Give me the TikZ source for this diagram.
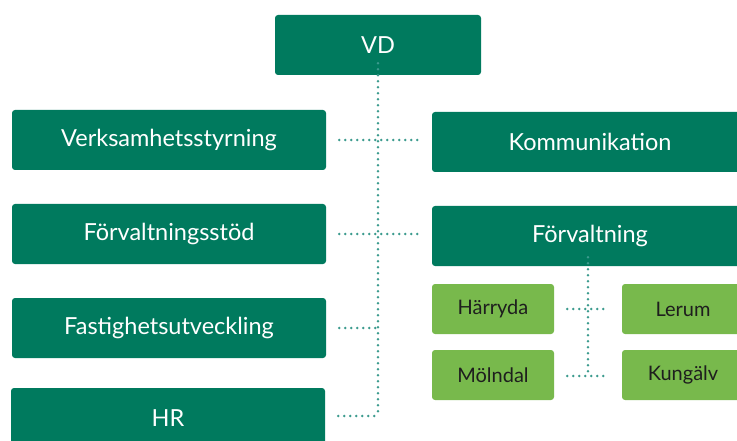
\documentclass[tikz,border=0pt]{standalone}
\usepackage{fontspec}
\setmainfont{Lato}
\definecolor{dkgreen}{RGB}{0,122,94}
\definecolor{ltgreen}{RGB}{120,185,76}
\definecolor{dotcol}{RGB}{60,155,142}
\definecolor{dktext}{RGB}{30,30,30}
\begin{document}
\begin{tikzpicture}[x=1pt,y=-1pt,
  mainbox/.style={fill=dkgreen,text=white,rounded corners=3pt,minimum height=60pt,inner sep=0pt,font=\fontsize{23.5}{26}\selectfont},
  subbox/.style={fill=ltgreen,text=dktext,rounded corners=3pt,minimum width=122pt,minimum height=50pt,inner sep=0pt,font=\fontsize{20}{23}\selectfont},
  dotline/.style={draw=dotcol,line width=2.7pt,line cap=round,dash pattern=on 0pt off 6pt}]
\useasboundingbox (0,0) rectangle (737,441);
\node[mainbox,minimum width=206pt] (vd) at (378,45) {VD};
\node[mainbox,minimum width=314pt] (verk) at (169,140) {Verksamhetsstyrning};
\node[mainbox,minimum width=316pt] (komm) at (590,142) {Kommunikation};
\node[mainbox,minimum width=314pt] (fstod) at (169,234) {Förvaltningsstöd};
\node[mainbox,minimum width=316pt] (forv) at (590,236) {Förvaltning};
\node[mainbox,minimum width=314pt] (fast) at (169,328) {Fastighetsutveckling};
\node[mainbox,minimum width=314pt] (hr) at (168,418) {HR};
\node[subbox] (harr) at (493,309) {Härryda};
\node[subbox] (lerum) at (683,309) {Lerum};
\node[subbox] (moln) at (493,375) {Mölndal};
\node[subbox] (kung) at (683,375) {Kungälv};
\coordinate (spine) at (378,416);
\coordinate (subspine) at (588,376);
\draw[dotline] ([yshift=12pt]vd.south) -- (spine);
\draw[dotline] ([xshift=13pt]verk.east) -- ([xshift=-14pt]komm.west |- verk.east);
\draw[dotline] ([xshift=13pt]fstod.east) -- ([xshift=-14pt]forv.west |- fstod.east);
\draw[dotline] ([xshift=13pt]fast.east) -- (fast.east -| spine);
\draw[dotline] ([xshift=13pt]hr.east |- spine) -- (spine);
\draw[dotline] ([yshift=9pt]forv.south -| subspine) -- (subspine);
\draw[dotline] ([xshift=13pt]harr.east) -- ([xshift=-13pt]lerum.west);
\draw[dotline] ([xshift=13pt]moln.east |- subspine) -- ([xshift=-13pt]kung.west |- subspine);
\end{tikzpicture}
\end{document}
